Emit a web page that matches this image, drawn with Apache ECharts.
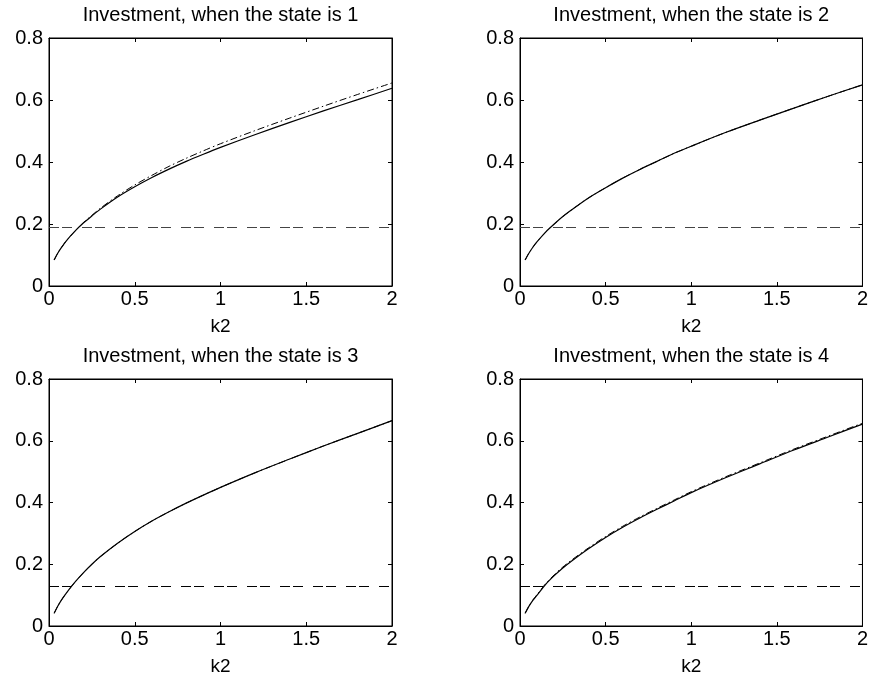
<!DOCTYPE html>
<html>
<head>
<meta charset="utf-8">
<script src="https://cdn.jsdelivr.net/npm/echarts@6/dist/echarts.min.js"></script>
<style>html,body{margin:0;padding:0;background:#fff}#c{width:871px;height:679px}</style>
</head>
<body>
<div id="c"></div>
<script>
// ---- data ----
const titles = [
  "Investment, when the state is 1",
  "Investment, when the state is 2",
  "Investment, when the state is 3",
  "Investment, when the state is 4"
];
const xName = "k2";
const k2 = [0.03, 0.05, 0.075, 0.1, 0.15, 0.2, 0.25, 0.3, 0.4, 0.5, 0.6, 0.7, 0.8, 0.9, 1.0, 1.2, 1.4, 1.6, 1.8, 2.0];
// solid line (policy)
const solid1 = [0.084, 0.105, 0.126, 0.145, 0.176, 0.203, 0.226, 0.248, 0.287, 0.320, 0.350, 0.377, 0.402, 0.425, 0.447, 0.488, 0.527, 0.565, 0.601, 0.638];
const solid2 = [0.084, 0.104, 0.125, 0.143, 0.174, 0.200, 0.224, 0.245, 0.284, 0.317, 0.348, 0.376, 0.402, 0.428, 0.451, 0.495, 0.535, 0.574, 0.612, 0.649];
const solid3 = [0.041, 0.063, 0.086, 0.106, 0.141, 0.172, 0.200, 0.225, 0.268, 0.306, 0.340, 0.370, 0.398, 0.424, 0.449, 0.496, 0.540, 0.583, 0.624, 0.665];
const solid4 = [0.041, 0.062, 0.083, 0.100, 0.135, 0.163, 0.188, 0.210, 0.250, 0.287, 0.320, 0.350, 0.378, 0.405, 0.432, 0.480, 0.525, 0.570, 0.612, 0.654];
// dash-dot line (comparison)
const dashdot1 = [0.084, 0.105, 0.126, 0.145, 0.176, 0.204, 0.228, 0.251, 0.291, 0.326, 0.357, 0.386, 0.412, 0.436, 0.459, 0.501, 0.541, 0.580, 0.618, 0.655];
const dashdot2 = solid2.slice();
const dashdot3 = solid3.slice();
const dashdot4 = [0.041, 0.062, 0.084, 0.102, 0.137, 0.166, 0.191, 0.213, 0.253, 0.290, 0.323, 0.353, 0.381, 0.408, 0.435, 0.483, 0.528, 0.573, 0.615, 0.657];
// horizontal dashed level
const levels = [0.192, 0.192, 0.126, 0.126];
const xTicks = {min: 0, max: 2, interval: 0.5};
const yTicks = {min: 0, max: 0.8, interval: 0.2};

const solids = [solid1, solid2, solid3, solid4];
const dashdots = [dashdot1, dashdot2, dashdot3, dashdot4];

// ---- layout ----
const boxes = [
  {left: 49, top: 38, width: 343, height: 248},
  {left: 520, top: 38, width: 344, height: 248},
  {left: 49, top: 379, width: 343, height: 247},
  {left: 520, top: 379, width: 344, height: 247}
];
const FONT = "'Liberation Sans', Arial, Helvetica, sans-serif";
const black = '#000';

const grid = [], xAxis = [], yAxis = [], series = [];
boxes.forEach((b, i) => {
  grid.push({left: b.left, top: b.top, width: b.width, height: b.height, containLabel: false,
             show: true, borderColor: black, borderWidth: 1, backgroundColor: '#fff'});
  const tick = {show: true, inside: true, length: 4, lineStyle: {color: black, width: 1}};
  // bottom x
  xAxis.push({type: 'value', gridIndex: i, position: 'bottom', min: xTicks.min, max: xTicks.max, interval: xTicks.interval,
    axisLine: {show: true, onZero: false, lineStyle: {color: black, width: 1}}, axisTick: tick,
    splitLine: {show: false},
    axisLabel: {color: black, fontSize: 20, fontFamily: FONT, margin: 3, showMinLabel: true, showMaxLabel: true},
    name: xName, nameLocation: 'middle', nameGap: 31,
    nameTextStyle: {color: black, fontSize: 19, fontFamily: FONT}});
  // top x (title)
  xAxis.push({type: 'value', gridIndex: i, position: 'top', min: xTicks.min, max: xTicks.max, interval: xTicks.interval,
    axisLine: {show: true, onZero: false, lineStyle: {color: black, width: 1}}, axisTick: tick,
    splitLine: {show: false}, axisLabel: {show: false},
    name: titles[i], nameLocation: 'middle', nameGap: 13,
    nameTextStyle: {color: black, fontSize: 20, fontFamily: FONT}});
  // left y
  yAxis.push({type: 'value', gridIndex: i, position: 'left', min: yTicks.min, max: yTicks.max, interval: yTicks.interval,
    axisLine: {show: true, onZero: false, lineStyle: {color: black, width: 1}}, axisTick: tick,
    splitLine: {show: false},
    axisLabel: {color: black, fontSize: 20, fontFamily: FONT, margin: 6, showMinLabel: true, showMaxLabel: true}});
  // right y
  yAxis.push({type: 'value', gridIndex: i, position: 'right', min: yTicks.min, max: yTicks.max, interval: yTicks.interval,
    axisLine: {show: true, onZero: false, lineStyle: {color: black, width: 1}}, axisTick: tick,
    splitLine: {show: false}, axisLabel: {show: false}});

  const xi = 2 * i, yi = 2 * i;
  series.push({type: 'line', xAxisIndex: xi, yAxisIndex: yi, showSymbol: false, smooth: 0.3, silent: true, z: 2,
    data: k2.map((x, j) => [x, dashdots[i][j]]),
    lineStyle: {color: black, width: 1, type: [7, 3, 1.5, 3]}});
  series.push({type: 'line', xAxisIndex: xi, yAxisIndex: yi, showSymbol: false, smooth: 0.3, silent: true, z: 3,
    data: k2.map((x, j) => [x, solids[i][j]]),
    lineStyle: {color: black, width: 1.2, type: 'solid'},
    markLine: {silent: true, symbol: ['none', 'none'], label: {show: false},
      lineStyle: {color: i < 2 ? '#444' : black, width: 1, type: [10, 3, 10, 10]},
      data: [{yAxis: levels[i]}]}});
});

const chart = echarts.init(document.getElementById('c'), null, {renderer: 'canvas'});
chart.setOption({backgroundColor: '#fff', animation: false, grid, xAxis, yAxis, series});
</script>
</body>
</html>
